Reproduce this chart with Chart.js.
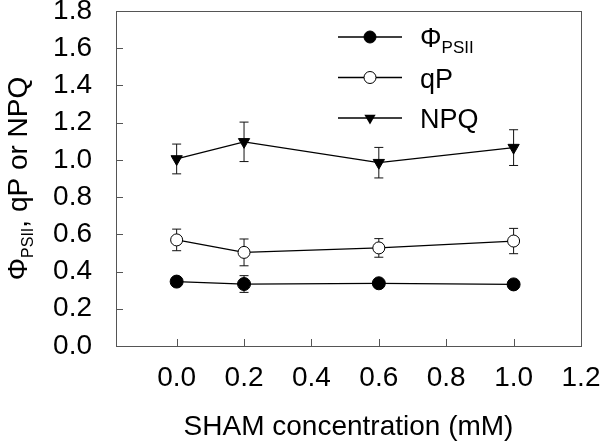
<!DOCTYPE html>
<html>
<head>
<meta charset="utf-8">
<script src="https://cdn.jsdelivr.net/npm/chart.js@4/dist/chart.umd.min.js"></script>
<style>
  html, body { margin: 0; padding: 0; background: #fff; }
  #wrap { width: 600px; height: 442px; }
</style>
</head>
<body>
<div id="wrap"><canvas id="c"></canvas></div>
<script>
// data
const sham = [0.0, 0.2, 0.6, 1.0];
const phiPSII = [0.346, 0.333, 0.337, 0.331];
const phiPSIIErr = [0.02, 0.045, 0.015, 0.015];
const qP = [0.570, 0.503, 0.527, 0.564];
const qPErr = [0.058, 0.072, 0.050, 0.068];
const npq = [1.005, 1.097, 0.985, 1.066];
const npqErr = [0.080, 0.106, 0.082, 0.096];
const xTicks = [0.0, 0.2, 0.4, 0.6, 0.8, 1.0, 1.2];
const yTicks = [0.0, 0.2, 0.4, 0.6, 0.8, 1.0, 1.2, 1.4, 1.6, 1.8];

const FONT = "'Liberation Sans', Arial, sans-serif";
const pts = (ys) => sham.map((x, i) => ({ x, y: ys[i] }));

// error bars, frame and inward ticks
const decor = {
  id: "decor",
  beforeDatasetsDraw(chart) {
    const { ctx, chartArea: a, scales: { x, y } } = chart;
    ctx.save();
    ctx.strokeStyle = "#555";
    ctx.lineWidth = 1;
    ctx.strokeRect(a.left + 0.5, a.top + 0.5, a.right - a.left, a.bottom - a.top);
    ctx.beginPath();
    xTicks.forEach(v => {
      const px = Math.round(x.getPixelForValue(v)) + 0.5;
      if (px > a.right - 2) return;
      ctx.moveTo(px, a.bottom); ctx.lineTo(px, a.bottom - 7);
    });
    yTicks.forEach(v => {
      const py = Math.round(y.getPixelForValue(v)) + 0.5;
      if (py > a.bottom - 2 || py < a.top + 2) return;
      ctx.moveTo(a.left, py); ctx.lineTo(a.left + 7, py);
    });
    ctx.stroke();

    ctx.strokeStyle = "#111";
    chart.data.datasets.forEach(ds => {
      ds.data.forEach((p, i) => {
        const e = ds.err[i];
        const px = x.getPixelForValue(p.x);
        const t = y.getPixelForValue(p.y + e), b = y.getPixelForValue(p.y - e);
        ctx.beginPath();
        ctx.moveTo(px, t); ctx.lineTo(px, b);
        ctx.moveTo(px - 4.5, t); ctx.lineTo(px + 4.5, t);
        ctx.moveTo(px - 4.5, b); ctx.lineTo(px + 4.5, b);
        ctx.stroke();
      });
    });
    ctx.restore();
  },
  afterDraw(chart) {
    const { ctx, chartArea: a } = chart;
    ctx.save();
    ctx.fillStyle = "#000";
    ctx.textBaseline = "alphabetic";

    // y axis title with subscript, rotated
    const main = "28px " + FONT, sub = "16px " + FONT;
    ctx.font = main; const wPhi = ctx.measureText("\u03A6").width;
    const wRest = ctx.measureText(", qP or NPQ").width;
    ctx.font = sub; const wSub = ctx.measureText("PSII").width;
    const total = wPhi + wSub + wRest;
    ctx.translate(27, (a.top + a.bottom) / 2);
    ctx.rotate(-Math.PI / 2);
    let tx = -total / 2;
    ctx.font = main; ctx.fillText("\u03A6", tx, 0); tx += wPhi;
    ctx.font = sub; ctx.fillText("PSII", tx, 6); tx += wSub;
    ctx.font = main; ctx.fillText(", qP or NPQ", tx, 0);
    ctx.setTransform(1, 0, 0, 1, 0, 0);

    // legend
    const rows = [
      { label: "\u03A6", sub: "PSII", style: "dot" },
      { label: "qP", style: "open" },
      { label: "NPQ", style: "tri" },
    ];
    const lx0 = a.left + 222, lx1 = a.left + 286, mx = a.left + 254, txt = a.left + 304;
    rows.forEach((r, i) => {
      const ry = a.top + 26 + i * 40.5;
      ctx.strokeStyle = "#000"; ctx.lineWidth = 1.3;
      ctx.beginPath(); ctx.moveTo(lx0, ry); ctx.lineTo(lx1, ry); ctx.stroke();
      ctx.lineWidth = 1;
      ctx.beginPath();
      if (r.style === "tri") {
        const rr = 6.5;
        ctx.moveTo(mx, ry + rr);
        ctx.lineTo(mx - rr * 0.866, ry - rr / 2);
        ctx.lineTo(mx + rr * 0.866, ry - rr / 2);
        ctx.closePath();
        ctx.fillStyle = "#000"; ctx.fill();
      } else {
        ctx.arc(mx, ry, 6, 0, Math.PI * 2);
        ctx.fillStyle = r.style === "dot" ? "#000" : "#fff";
        ctx.fill(); ctx.stroke();
      }
      ctx.fillStyle = "#000";
      ctx.font = "27px " + FONT;
      ctx.fillText(r.label, txt, ry + 10);
      if (r.sub) {
        const w = ctx.measureText(r.label).width;
        ctx.font = "17px " + FONT;
        ctx.fillText(r.sub, txt + w, ry + 16);
      }
    });
    ctx.restore();
  },
};

new Chart(document.getElementById("c"), {
  type: "scatter",
  data: {
    datasets: [
      {
        label: "PSII", data: pts(phiPSII), err: phiPSIIErr, showLine: true,
        borderColor: "#000", borderWidth: 1.3, pointRadius: 6.5,
        pointBackgroundColor: "#000", pointBorderColor: "#000", pointBorderWidth: 1,
      },
      {
        label: "qP", data: pts(qP), err: qPErr, showLine: true,
        borderColor: "#000", borderWidth: 1.3, pointRadius: 6,
        pointBackgroundColor: "#fff", pointBorderColor: "#000", pointBorderWidth: 1,
      },
      {
        label: "NPQ", data: pts(npq), err: npqErr, showLine: true,
        borderColor: "#000", borderWidth: 1.3, pointRadius: 6.5,
        pointStyle: "triangle", rotation: 180,
        pointBackgroundColor: "#000", pointBorderColor: "#000", pointBorderWidth: 1,
      },
    ],
  },
  options: {
    responsive: true,
    maintainAspectRatio: false,
    animation: false,
    events: [],
    layout: { padding: { top: 11, right: 19, left: 0, bottom: 0 } },
    plugins: { legend: { display: false }, tooltip: { enabled: false } },
    scales: {
      x: {
        type: "linear", min: -0.18, max: 1.2,
        grid: { display: false }, border: { display: false },
        afterBuildTicks: s => { s.ticks = xTicks.map(value => ({ value })); },
        afterFit: s => { s.height = 96; s.paddingLeft = 0; s.paddingRight = 0; },
        ticks: {
          padding: 7, color: "#000", font: { family: FONT, size: 28 },
          maxRotation: 0, autoSkip: false, callback: v => v.toFixed(1),
        },
        title: {
          display: true, text: "SHAM concentration (mM)", color: "#000",
          font: { family: FONT, size: 28, lineHeight: 1 }, padding: { top: 0, bottom: 1 },
        },
      },
      y: {
        type: "linear", min: 0, max: 1.8,
        grid: { display: false }, border: { display: false },
        afterBuildTicks: s => { s.ticks = yTicks.map(value => ({ value })); },
        afterFit: s => { s.width = 116; s.paddingTop = 0; s.paddingBottom = 0; },
        ticks: {
          padding: 16, color: "#000", font: { family: FONT, size: 28 },
          autoSkip: false, callback: v => v.toFixed(1),
        },
      },
    },
  },
  plugins: [decor],
});
</script>
</body>
</html>
